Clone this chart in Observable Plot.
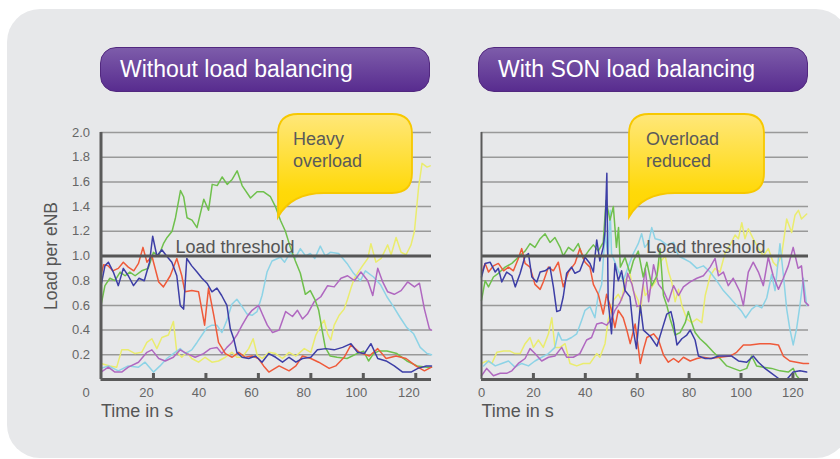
<!DOCTYPE html>
<html><head><meta charset="utf-8">
<script src="https://cdn.jsdelivr.net/npm/d3@7"></script>
<script src="https://cdn.jsdelivr.net/npm/@observablehq/plot@0.6"></script>
<style>
html,body{margin:0;padding:0;background:#fff;}
#wrap{position:relative;width:840px;height:459px;overflow:hidden;font-family:"Liberation Sans",Arial,sans-serif;}
#bg{position:absolute;left:7px;top:9px;width:842px;height:449px;border-radius:33px;background:#e7e8ea;}
.pill{position:absolute;top:47px;height:45px;width:330px;box-sizing:border-box;border-radius:16px;background:linear-gradient(#7d5caa,#582c8f);border:1px solid #52287f;color:#fff;font-size:23px;line-height:43px;padding-left:19px;white-space:nowrap;}
.panel{position:absolute;top:120px;}
#overlay{position:absolute;left:0;top:0;pointer-events:none;}
</style></head>
<body>
<div id="wrap">
  <div id="bg"></div>
  <div class="pill" style="left:100px">Without load balancing</div>
  <div class="pill" style="left:478px">With SON load balancing</div>
  <div class="panel" id="left" style="left:0px"></div>
  <div class="panel" id="right" style="left:420px"></div>
  <svg id="overlay" width="840" height="459"></svg>
</div>
<script>
// ---------- data ----------
const xDomain = [0, 126];
const yDomain = [0, 2];
const yTicks = [0.2, 0.4, 0.6, 0.8, 1.0, 1.2, 1.4, 1.6, 1.8, 2.0];
const xTicksLeft = [20, 40, 60, 80, 100, 120];
const xTicksRight = [0, 20, 40, 60, 80, 100, 120];
const threshold = 1.0;
const titles = ["Without load balancing", "With SON load balancing"];
const calloutLeft = ["Heavy", "overload"];
const calloutRight = ["Overload", "reduced"];
const thresholdLabel = "Load threshold";
const thresholdLabelPos = [28.4, 63.5];

const leftRed = [[0,.85],[1,.93],[2.8,.92],[4.5,.88],[6.6,.9],[8.5,.95],[10.4,.91],[12.5,.88],[14.3,.94],[16,1.07],[17.5,.95],[19.4,1.0],[22,.79],[23.8,.75],[26.4,.84],[28.9,.98],[30.8,.84],[32,.71],[34.6,.72],[37.2,.71],[39.5,.44],[41,.74],[43,.52],[44.8,.3],[47.4,.21],[50,.18],[52.5,.22],[55,.18],[57.6,.19],[60,.17],[62,.11],[64,.06],[67.9,.11],[71.7,.07],[74.3,.11],[76.8,.19],[80,.17],[83,.14],[87,.09],[89.5,.11],[92.7,.18],[95.3,.28],[98.5,.22],[102.3,.19],[105.5,.25],[108.7,.17],[112.5,.19],[116.3,.17],[120,.11],[123.3,.07],[126,.1]];
const leftBlue = [[0,.76],[1.5,.92],[2.8,.95],[4.7,.87],[6.6,.76],[8.5,.9],[10.4,.84],[12.4,.76],[14.5,.82],[16.5,.8],[18.5,.95],[19.7,1.16],[21.3,1.0],[23.2,1.05],[25,1.0],[27,.95],[28.9,.84],[30.2,.6],[31.5,.57],[32.7,.98],[34.6,.92],[36.6,.87],[38.5,.82],[40.4,.78],[42.3,.71],[44.2,.74],[46,.68],[48,.6],[49.3,.41],[50.6,.33],[51.8,.22],[53.8,.18],[56.3,.17],[58.9,.19],[61.4,.14],[64,.21],[66.6,.18],[69.2,.14],[71.7,.18],[74.3,.14],[76.8,.17],[80,.18],[82.5,.24],[85.7,.25],[88.9,.24],[92.1,.26],[95.3,.29],[97.8,.22],[100.4,.21],[102.9,.29],[105.5,.17],[108.7,.15],[111.8,.11],[115,.06],[118.2,.06],[120.8,.09],[124,.11],[126,.11]];
const leftGreen = [[0,.6],[1.5,.76],[3.4,.82],[5.3,.8],[7.3,.87],[9.2,.84],[11,.87],[13,.84],[15.5,.88],[18,.9],[20,1.03],[22,1.0],[23.8,1.1],[25.2,1.15],[27.1,1.2],[28.4,1.31],[30.3,1.53],[31.5,1.48],[32.8,1.31],[34.7,1.29],[36.6,1.23],[39.2,1.46],[41,1.37],[42.4,1.58],[44.3,1.57],[46.2,1.64],[48.1,1.58],[50,1.62],[51.9,1.69],[53.8,1.57],[57,1.47],[59.5,1.52],[62,1.52],[64.6,1.48],[66.5,1.4],[68.4,1.29],[70.3,1.2],[72.2,1.07],[74.1,.96],[76,.86],[77.9,.69],[79.8,.72],[81.7,.64],[83,.56],[84.3,.4],[85.5,.26],[87.4,.19],[90,.18],[93.8,.17],[97.6,.21],[100.1,.23],[102,.15],[103.9,.21],[105.8,.23],[109,.23],[112.8,.21],[116.6,.15],[120.5,.11],[124.3,.1],[126,.1]];
const leftCyan = [[0,.09],[2.8,.11],[6.6,.07],[10.4,.11],[14.3,.1],[16.8,.14],[20,.06],[22.5,.11],[25.1,.17],[27.6,.21],[30.2,.25],[32.1,.21],[34.6,.24],[36.6,.3],[38.5,.36],[40.4,.42],[42.3,.44],[44.2,.44],[46.1,.38],[48,.48],[49.9,.61],[51.8,.65],[53.8,.59],[55.7,.53],[57.6,.52],[59.5,.55],[61.4,.68],[63.3,.87],[65.2,.96],[68.4,.99],[70,.95],[72.2,1.03],[74,.98],[76,1.06],[78,1.0],[79.8,1.02],[81.5,.98],[83.6,1.08],[85.5,1.0],[87.4,1.03],[90.6,1.02],[93.8,.94],[96.3,.86],[98.9,.8],[100.8,.88],[103.9,.83],[106.5,.77],[109,.67],[111.5,.59],[114.1,.5],[116.6,.42],[119.2,.37],[121.7,.26],[124.3,.21],[126,.2]];
const leftPurple = [[0,.06],[2.8,.1],[5.3,.06],[7.9,.06],[10.4,.1],[14.3,.14],[17.5,.22],[19.4,.24],[22,.17],[24.5,.15],[27.6,.18],[30.2,.24],[32.7,.21],[35.9,.18],[39.1,.21],[41.7,.25],[44.2,.26],[46.1,.21],[48,.26],[49.9,.3],[51.8,.36],[53.8,.44],[55.7,.51],[57.6,.56],[60.1,.6],[61.5,.53],[63.4,.44],[65.4,.38],[67.9,.4],[70.4,.55],[73,.51],[74.9,.56],[76.8,.49],[78.7,.53],[81.3,.63],[83.8,.67],[86.4,.76],[88.9,.75],[91.5,.82],[94,.84],[96.6,.8],[99.1,.87],[101.7,.8],[103.6,.68],[105.5,.9],[107.4,.79],[109.3,.71],[111.8,.69],[114.4,.72],[116.9,.79],[119.5,.75],[121.4,.78],[123.3,.57],[125.2,.41],[126,.4]];
const leftYellow = [[0,.13],[3.4,.11],[6,.1],[7.9,.24],[10.4,.24],[13,.21],[15.5,.22],[17.5,.3],[19.4,.33],[21.3,.25],[23.2,.34],[25.7,.36],[27.6,.47],[28.9,.22],[30.8,.18],[32.7,.22],[34.6,.17],[37.2,.14],[39.7,.18],[42.3,.14],[44.8,.15],[47.4,.18],[49.9,.22],[51.8,.18],[53.8,.18],[56.3,.25],[58,.33],[59.5,.2],[61.5,.17],[64,.22],[66.6,.21],[69.2,.17],[71.7,.22],[74.3,.19],[77.5,.25],[80,.22],[81.9,.36],[83.8,.44],[85.1,.48],[86.4,.37],[87.6,.32],[88.9,.44],[90.8,.52],[92.7,.57],[94,.65],[95.3,.74],[96.6,.82],[97.8,.86],[99.7,.92],[101.7,.98],[102.9,1.1],[104.8,.95],[106.8,.98],[109.3,1.09],[110.6,1.01],[112.5,1.15],[114.4,1.03],[116.3,1.01],[118.2,1.09],[119.5,1.2],[121.1,1.56],[122.4,1.75],[124.3,1.72],[125.5,1.73]];

const rightRed = [[0.4,.88],[1.4,.94],[2.7,.87],[4.6,.92],[6.5,.94],[8.5,.88],[10.4,.91],[12.3,.88],[14.2,.98],[15.5,1.06],[16.8,.94],[18.7,.91],[20.6,.77],[22.6,.73],[23.8,.79],[25.8,.91],[27.7,.88],[29.6,.95],[31.5,.75],[33.5,.87],[36,.94],[37.9,1.06],[39.9,.95],[41.8,.91],[43.1,.77],[45,.69],[46.9,.53],[48.2,.69],[50.1,.56],[51.4,.42],[52.7,.56],[54.6,.5],[56,.4],[57.3,.29],[59.2,.45],[61.2,.13],[62.5,.25],[63.7,.34],[66.3,.37],[68.2,.32],[70.1,.2],[72,.14],[74,.17],[75.9,.14],[77.8,.18],[80.4,.15],[83,.17],[85.5,.18],[88.1,.17],[91.9,.18],[95.8,.19],[98.3,.22],[100.9,.28],[103.5,.28],[107.3,.29],[111.2,.29],[114.4,.28],[116.3,.19],[118.8,.15],[121.4,.14],[124,.13],[126,.13]];
const rightBlue = [[0,.83],[1.4,.94],[3.3,.95],[5.3,.87],[6.5,.9],[7.8,.79],[9.7,.87],[11.7,.84],[13,.75],[14.9,.86],[16.8,1.0],[18.1,1.02],[19.4,.83],[21.3,.79],[22.6,.87],[24.5,.88],[26.4,.91],[27.7,.75],[29,.55],[30.3,.56],[31.5,.67],[32.8,.86],[34.7,.91],[36,.86],[37.9,.88],[39.9,.99],[41.8,.94],[43.1,.87],[44.4,1.13],[45.6,.96],[46.9,1.07],[47.6,1.2],[48.3,1.67],[48.8,.64],[50.1,.37],[51.4,.94],[52.7,.8],[54,.88],[55.3,.72],[57.2,.67],[58.5,.4],[59.7,.25],[61.2,.6],[62.4,.4],[65,.35],[67.6,.27],[69.5,.4],[71.4,.53],[73,.55],[74,.46],[75.3,.28],[77.2,.33],[79.1,.36],[80.4,.4],[82.3,.32],[83.6,.19],[86.2,.17],[88.7,.17],[91.3,.19],[93.8,.19],[96.4,.19],[99,.15],[102.2,.14],[104.7,.19],[106.7,.14],[109.2,.09],[111.8,.05],[115,0],[117.6,0],[120.1,.06],[122.7,.07],[125.3,.06]];
const rightGreen = [[0,.64],[1.4,.8],[2.7,.75],[4.6,.83],[6.5,.86],[9.1,.91],[11.7,.94],[14.2,.99],[16.8,1.04],[18.7,1.1],[20.6,1.07],[22.6,1.14],[24.5,1.18],[26.4,1.11],[28.3,1.15],[30.3,1.07],[31.5,1.0],[33.5,1.07],[35.4,1.04],[37.3,1.1],[39.2,.98],[41.2,1.04],[43.1,1.09],[45,1.04],[46.9,1.11],[48,1.45],[49.5,1.29],[50.8,1.4],[52,1.07],[52.8,1.23],[53.5,.91],[55.3,.99],[57.2,.86],[58.5,.96],[60.4,1.04],[62.3,.83],[63.7,.95],[65.6,.76],[67.6,.84],[68.8,1.06],[70.1,.68],[71.4,.6],[72.7,.49],[74.6,.36],[76.5,.38],[78.5,.46],[79.7,.55],[81,.46],[82.3,.38],[84.2,.33],[86.8,.28],[89.4,.22],[91.9,.17],[94.5,.11],[97,.09],[99.6,.07],[102.2,.09],[104.1,.19],[106,.11],[108.6,.1],[111.8,.09],[115,.07],[118.2,.06],[120.1,.09],[121.4,.03],[122.7,0],[125.3,0]];
const rightCyan = [[0.8,.11],[2.7,.15],[5.3,.11],[7.8,.13],[10.4,.15],[12.9,.1],[15.5,.13],[18.1,.11],[20.6,.15],[23.2,.18],[25.8,.21],[28.3,.26],[29.6,.38],[30.9,.32],[32.8,.32],[34.7,.34],[36.7,.37],[38.6,.48],[39.9,.56],[41.8,.59],[43.7,.5],[45,.69],[46.3,.77],[47.6,1.18],[48.8,1.0],[49.6,1.37],[50.1,1.02],[52.7,.88],[54.6,.8],[56.5,.91],[58.5,1.02],[60.4,1.1],[61.7,1.18],[62.9,1.07],[64.4,1.11],[65.6,1.23],[66.9,1.14],[68.8,1.13],[71.4,1.09],[74,1.11],[75.9,1.0],[77.8,.98],[80.4,.95],[83,.9],[85.5,.92],[88.1,.87],[90.6,.8],[93.2,.72],[95.8,.66],[98.3,.6],[100.3,.55],[101.8,.5],[104.1,.57],[106,.6],[108,.58],[109.9,.66],[111.8,.85],[113.1,.72],[115,1.1],[116.3,.85],[117.6,.57],[118.8,.41],[120.1,.28],[121.4,.41],[122.7,.6],[124,.82],[125.3,.6]];
const rightPurple = [[0,.03],[2,.09],[4.6,.03],[7.2,.05],[9.7,.05],[11.7,.07],[14.2,.13],[16.8,.17],[18.7,.25],[20.6,.21],[23.2,.15],[25.8,.18],[28.3,.19],[30.9,.26],[32.8,.18],[35.4,.18],[37.9,.21],[40.5,.32],[42.4,.34],[44.4,.45],[46.3,.46],[48.2,.44],[50.1,.49],[51.4,.56],[53.3,.62],[55.3,.72],[56.3,.86],[58,.77],[59.9,.59],[61.2,.6],[63.1,.9],[64.4,.63],[66.3,.93],[68.2,.77],[70.1,.72],[72,.63],[74,.76],[75.9,.68],[77.8,.75],[80.4,.79],[83,.82],[85.5,.84],[88.1,.91],[90,.98],[91.3,.84],[93.2,.87],[95.1,.76],[97,.82],[99.6,.71],[100.9,.6],[102.8,.87],[104.7,.95],[106.7,.87],[108.6,.76],[110.5,.99],[112.4,.84],[114.4,.73],[116.3,.82],[118.2,.92],[120.1,1.07],[122,.9],[123.3,.92],[124.6,.63],[126,.6]];
const rightYellow = [[0,.13],[2,.15],[4,.13],[5.9,.22],[8.5,.23],[11,.23],[12.9,.21],[14.9,.21],[16.8,.29],[18.7,.34],[20,.26],[21.9,.32],[23.8,.26],[25.8,.37],[27.1,.5],[28.3,.26],[30.3,.26],[32.2,.29],[34.1,.13],[36.7,.11],[39.2,.13],[41.8,.13],[44.4,.21],[45.6,.18],[47.6,.29],[48.8,.48],[50.8,.64],[52.7,.69],[54,.64],[55.3,.8],[57.2,.86],[58.5,.72],[60.4,.64],[61.2,.52],[62.3,.77],[63.1,.68],[65,.73],[67,.79],[68.8,.95],[70.8,1.0],[72.1,.87],[73.3,.79],[74.6,.63],[75.9,.73],[77.2,.6],[79.1,.49],[81,.46],[83,.49],[84.9,.46],[86.2,.68],[88.1,.84],[90,.9],[91.9,.87],[93.8,1.02],[95.8,1.09],[97.7,1.17],[99,1.14],[100.3,1.27],[101.5,1.14],[102.8,1.22],[104.7,1.14],[106.7,1.06],[108.6,1.0],[110.5,1.06],[112.4,.95],[113.7,.92],[115.6,1.0],[117.6,1.3],[119.5,1.19],[120.8,1.33],[122.1,1.37],[123.3,1.3],[125.3,1.34]];

const seriesColors = {yellow: "#eaec6e", cyan: "#8dd3e6", purple: "#b068c0", green: "#6fc04c", red: "#ef5a3a", blue: "#3d3ea6"};
const leftSeries = {yellow: leftYellow, cyan: leftCyan, purple: leftPurple, green: leftGreen, red: leftRed, blue: leftBlue};
const rightSeries = {yellow: rightYellow, cyan: rightCyan, purple: rightPurple, green: rightGreen, red: rightRed, blue: rightBlue};

// ---------- drawing ----------
const FONT = "Liberation Sans, Arial, sans-serif";
function panel(series, o) {
  const marks = [
    Plot.ruleY(yTicks, {stroke: "#999", strokeWidth: 1.5}),
    ...Object.keys(series).map(k => Plot.line(series[k], {x: d => d[0], y: d => d[1], stroke: seriesColors[k], strokeWidth: 1.5})),
    Plot.ruleY([threshold], {stroke: "#555", strokeWidth: 3}),
    Plot.text([thresholdLabel], {x: o.labelX, y: threshold, textAnchor: "start", lineAnchor: "bottom", dy: -3, fontSize: 18, fill: "#555"}),
    Plot.ruleX([0], {stroke: "#5a5a5a", strokeWidth: o.axisW}),
    Plot.ruleY([0], {stroke: "#5a5a5a", strokeWidth: 3}),
    Plot.tickX(xTicksLeft, {x: d => d, insetTop: 241, stroke: "#5a5a5a", strokeWidth: 3}),
    Plot.axisX({ticks: o.xTicks, tickSize: 0, tickPadding: 8, dx: o.xdx, fontSize: 13, fill: "#666", label: null}),
    Plot.text(["Time in s"], {frameAnchor: "bottom-left", textAnchor: "start", dy: 37, fontSize: 18, fill: "#555"})
  ];
  if (o.showY) {
    marks.push(Plot.axisY({ticks: yTicks, tickSize: 0, tickPadding: 11, tickFormat: d3.format(".1f"), fontSize: 13, fill: "#666", label: null}));
    marks.push(Plot.text(["0"], {x: 0, y: 0, dx: -15, dy: 13, fontSize: 13, fill: "#666"}));
    marks.push(Plot.text(["Load per eNB"], {frameAnchor: "left", textAnchor: "middle", dx: -50, rotate: -90, fontSize: 17.5, fill: "#555"}));
  } else {
    marks.push(Plot.axisY({ticks: [], tickSize: 0, label: null}));
  }
  return Plot.plot({
    width: o.width, height: 300,
    marginLeft: o.ml, marginRight: o.mr, marginTop: 12, marginBottom: 41,
    x: {domain: xDomain},
    y: {domain: yDomain},
    style: {background: "transparent", fontFamily: FONT, overflow: "visible"},
    marks
  });
}
document.getElementById("left").append(panel(leftSeries, {width: 440, ml: 100.5, mr: 9, xTicks: xTicksLeft, xdx: -7, showY: true, axisW: 3, labelX: thresholdLabelPos[0]}));
document.getElementById("right").append(panel(rightSeries, {width: 400, ml: 61, mr: 12, xTicks: xTicksRight, xdx: 0, showY: false, axisW: 2, labelX: thresholdLabelPos[1]}));

// callouts
function bubble(x0, y0, x1, y1, tipY, r) {
  return `M${x0 + r},${y0} H${x1 - r} Q${x1},${y0} ${x1},${y0 + r} V${y1 - r} Q${x1},${y1} ${x1 - r},${y1} H${x0 + 46} C${x0 + 24},${y1} ${x0 + 9},${y1 + 8} ${x0},${tipY} V${y0 + r} Q${x0},${y0} ${x0 + r},${y0} Z`;
}
const ov = document.getElementById("overlay");
ov.innerHTML = `
<defs><linearGradient id="yg" x1="0" y1="0" x2="0" y2="1">
<stop offset="0" stop-color="#ffe77a"/><stop offset="0.75" stop-color="#ffd90a"/><stop offset="1" stop-color="#ffd600"/></linearGradient></defs>
<path d="${bubble(278, 114, 412, 193, 217, 20)}" fill="url(#yg)" stroke="#f7c800" stroke-width="1.8"/>
<path d="${bubble(629, 114, 764, 193, 217, 20)}" fill="url(#yg)" stroke="#f7c800" stroke-width="1.8"/>
<g font-family="${FONT}" font-size="18" fill="#5a5a5a">
<text x="293" y="145">${calloutLeft[0]}</text><text x="293" y="167">${calloutLeft[1]}</text>
<text x="646" y="145">${calloutRight[0]}</text><text x="646" y="167">${calloutRight[1]}</text>
</g>`;
</script>
</body></html>
